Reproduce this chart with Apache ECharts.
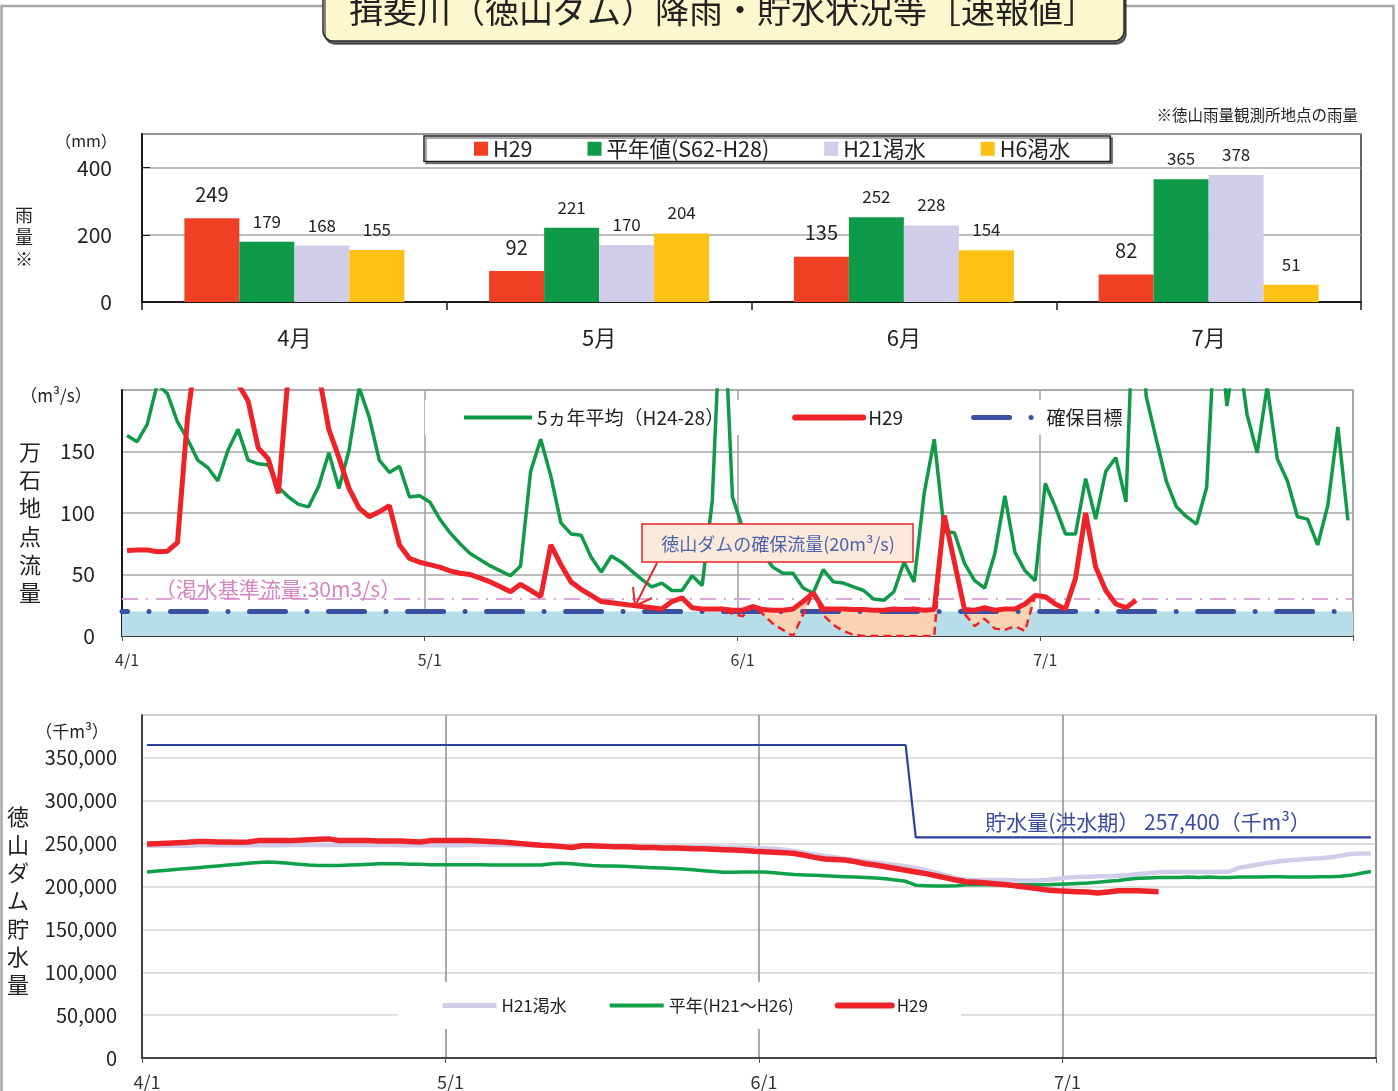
<!DOCTYPE html>
<html><head><meta charset="utf-8">
<script src="https://cdn.jsdelivr.net/npm/echarts@6.0.0/dist/echarts.min.js"></script>
<style>html,body{margin:0;padding:0;background:#fff;} #c{width:1398px;height:1091px;}</style>
</head><body><div id="c"></div>
<script>
const FONT = '"Noto Sans CJK JP", "Noto Sans", sans-serif';

// ---------- Rainfall (mm) ----------
const MONTHS = ['4月', '5月', '6月', '7月'];
const RAIN_H29 = [249, 92, 135, 82];
const RAIN_NORMAL = [179, 221, 252, 365];
const RAIN_H21 = [168, 170, 228, 378];
const RAIN_H6 = [155, 204, 154, 51];

// ---------- Days 4/1 .. 7/31 ----------
const MONTH_NUM = [4, 5, 6, 7];
const MONTH_LEN = [30, 31, 30, 31];
const DAYS = [];
MONTH_NUM.forEach((m, i) => { for (let d = 1; d <= MONTH_LEN[i]; d++) DAYS.push(m + '/' + d); });
const MONTH_START_IDX = [0, 30, 61, 91];

// ---------- Flow at Mangoku (m3/s) ----------
const FLOW_AVG5 = [
  163,158,172,205,197,174,160,143,137,126,
  151,168,143,140,139,121,113,107,105,122,
  149,120,151,202,178,143,133,138,113,114,
  109,95,84,75,67,62,57,53,49,57,
  134,160,130,92,83,82,64,52,65,60,
  53,46,40,43,37,37,49,41,110,300,
  113,88,78,67,56,51,51,39,35,54,
  44,43,40,37,30,29,36,60,44,116,
  160,85,84,59,45,39,67,114,68,53,
  45,124,105,83,83,128,95,134,145,109,
  330,195,160,126,105,97,91,121,280,187,
  240,180,149,203,144,126,97,95,74,106,
  170,94
];
const FLOW_H29 = [
  69.5,70,70,68.5,69,76,178,240,290,270,
  235,205,191,153,144,116,215,300,280,213,
  168,145,120,104,97,101,106,74,63,60,
  58,56,53,51,50,47,44,40,36,42,
  37,32,74,58,44,38,33,28,27,26,
  25,24,23,22,28,31,23,22,22,22,
  21,21,24,21.5,21,21,22,28,35,22,
  22,22,21.5,21.5,21,21,22,21.5,22,21,
  21.5,98,60,21.5,21,23,21,22,22,26,
  33,32,26,22,47,100,56,37,26,23,
  29
];
// flow without dam supplement (dashed), starting at index 58 (5/29)
const NO_DAM_START = 58;
const FLOW_H29_NO_DAM = [22,21,18,16,24,18,10,5,0,17.5,35,17,9,4,1,0,0,0,0,0,0,0,0,98,60,18,8,14,6,5,8,4,33];
const TARGET_FLOW = 20;      // 確保目標
const DROUGHT_FLOW = 30;     // 渇水基準流量

// ---------- Storage (thousand 千m3) ----------
const STORAGE_H21_K = [
  247.5,247.5,247.5,247.5,247.5,248,248,248,248,248,
  248,248,248,248,248.5,248.5,248.5,248.5,248.5,248.5,
  248.5,248.5,248.5,248.5,248.5,248,248,248,248,248,
  248,248,248.5,248.5,248.5,248.5,248.5,248,248,247.5,
  247.5,247,247,247,247,246.5,246.5,246.5,246.5,246.5,
  246.5,246.5,246.5,246,246,246,246,245.5,245.5,245.5,
  245,244.5,244,243,241.5,239.5,237.5,235.5,234,232.5,
  231,229.5,228,226.5,225,223.5,221.5,219,216,213,
  210,208,207.5,207.5,207.5,207.5,207,207,207,207.5,
  209,210.5,211,211.5,212,212,212.5,213,214.5,215.5,
  216.5,217,217,217,217,217,217,217.5,222,224,
  226,228,229.5,230.5,231.5,232.5,233,234,236,238,
  238.5,238.5
];
const STORAGE_NORMAL_K = [
  217,218,219,220,221,222,223,224,225,226,
  227,228,228.5,228,227,226,225,224.5,224.5,224.5,
  225,225.5,226,226.5,226.5,226.5,226,226,225.5,225.5,
  225.5,225.5,225.5,225.5,225,225,225,225,225,225,
  226.5,227,226.5,225.5,224.5,224,224,223.5,223,222.5,
  222,221.5,221,220.5,219.5,218.5,217.5,216.5,216.5,217,
  217,217,216,215,214,213.5,213,212.5,212,211.5,
  211,210.5,210,209,207.5,206,201.5,201,200.5,200.5,
  201,202,202,202,202,202,202,202,202,202,
  202.5,203,203.5,204,205,206,207,208.5,209.5,210,
  210.5,210.5,210.5,211,210.5,211,210.5,210.5,211,211,
  211,211.5,211.5,211,211,211,211.5,211.5,212,213,
  215.5,217.5
];
const STORAGE_H29_K = [
  249.5,250,250.5,251,251.5,252.5,252.5,252,252,251.5,
  252,253.5,253.5,253.5,253.5,254,254.5,255,255.5,253.5,
  253.5,253.5,253.5,253,253,253,252.5,252,253.5,253.5,
  253.5,253.5,253.5,253,252.5,252,251,250,249,248,
  247.5,246.5,245.5,247.5,247.5,247,246.5,246.5,246,245.5,
  245.5,245,245,244.5,244,244,243.5,243,242.5,242,
  241,240.5,240,239.5,238.5,236.5,234,232,231.5,231,
  229,226.5,225,223,221,219,217,215,212.5,210,
  207.5,205.5,205,204,203,202,200.5,199,197.5,196,
  195,194.5,194,193.5,192.5,193.5,195,195,195,194.5,
  194
];
const LIMIT_NORMAL_K = 365;    // 通常期
const LIMIT_FLOOD_K = 257.4;   // 洪水期
const FLOOD_FROM_IDX = 76;     // 6/16

// ---------- derived series ----------
const noDam = DAYS.map((_, i) => {
  const k = i - NO_DAM_START;
  return (k >= 0 && k < FLOW_H29_NO_DAM.length) ? FLOW_H29_NO_DAM[k] : null;
});
const noDamGap = DAYS.map((_, i) => (noDam[i] == null || FLOW_H29[i] == null) ? null : Math.max(0, FLOW_H29[i] - noDam[i]));
const K = v => v * 1000;
const storH21 = STORAGE_H21_K.map(K);
const storNormal = STORAGE_NORMAL_K.map(K);
const storH29 = STORAGE_H29_K.map(K);
const storLimit = DAYS.map((_, i) => K(i < FLOOD_FROM_IDX ? LIMIT_NORMAL_K : LIMIT_FLOOD_K));

const monthIdx = idx => MONTH_START_IDX.indexOf(idx) >= 0;
const stripZW = n => n.replace(/\u200b/g, '');

const C_RED = '#EE2229', C_GREEN = '#109A48', C_BLUE = '#3B4FA3', C_LAV = '#CFCDE7', C_GREEN2 = '#10A04A';
const BLUE_DASH = [36, 21.5, 0.01, 21.5];

const chart = echarts.init(document.getElementById('c'), null, { renderer: 'canvas' });

function dayAxis(gridIndex, labelSize, margin, splitColor) {
  return {
    type: 'category', gridIndex, data: DAYS, boundaryGap: true,
    axisLine: { show: true, lineStyle: { color: '#1a1a1a', width: 1.5 } },
    axisTick: { show: true, interval: monthIdx, length: 5, lineStyle: { color: '#555' } },
    axisLabel: { interval: monthIdx, fontSize: labelSize, color: '#333', margin, fontFamily: FONT },
    splitLine: { show: true, interval: (i) => monthIdx(i) && i > 0, lineStyle: { color: splitColor, width: 1.5 } }
  };
}

const option = {
  animation: false,
  textStyle: { fontFamily: FONT },
  grid: [
    { left: 142, top: 134, width: 1219, height: 168, show: true, borderColor: '#333', borderWidth: 1.5, outerBoundsMode: 'none' },
    { left: 122, top: 390, width: 1231, height: 246, show: true, borderColor: '#A6A6A6', borderWidth: 1.5, outerBoundsMode: 'none' },
    { left: 142, top: 715, width: 1234, height: 343, show: true, borderColor: '#A6A6A6', borderWidth: 1.5, outerBoundsMode: 'none' }
  ],
  xAxis: [
    {
      type: 'category', gridIndex: 0, data: MONTHS,
      axisLine: { lineStyle: { color: '#1a1a1a', width: 2 } },
      axisTick: { show: true, length: 8, lineStyle: { color: '#1a1a1a', width: 1.5 } },
      axisLabel: { fontSize: 22, color: '#222', margin: 25 },
      splitLine: { show: false }
    },
    dayAxis(1, 16, 16, '#A0A0A0'),
    dayAxis(2, 18, 15, '#8C8C8C')
  ],
  yAxis: [
    {
      type: 'value', gridIndex: 0, min: 0, max: 500, interval: 200,
      axisLine: { show: true, lineStyle: { color: '#1a1a1a', width: 2 } },
      axisTick: { show: true, inside: true, length: 8, lineStyle: { color: '#1a1a1a' } },
      axisLabel: { fontSize: 21, color: '#222', margin: 30, showMaxLabel: false },
      splitLine: { lineStyle: { color: '#A6A6A6', width: 1.5 } }
    },
    {
      type: 'value', gridIndex: 1, min: 0, max: 200, interval: 50,
      axisLine: { show: true, lineStyle: { color: '#1a1a1a', width: 2 } },
      axisTick: { show: false },
      axisLabel: { fontSize: 21, color: '#222', margin: 27, showMaxLabel: false },
      splitLine: { lineStyle: { color: '#A6A6A6', width: 1.5 } }
    },
    {
      type: 'value', gridIndex: 2, min: 0, max: 400000, interval: 50000,
      axisLine: { show: true, lineStyle: { color: '#1a1a1a', width: 1.5 } },
      axisTick: { show: false },
      axisLabel: { fontSize: 20, color: '#222', margin: 25, showMaxLabel: false,
        formatter: v => v.toLocaleString('en-US') },
      splitLine: { lineStyle: { color: '#D4D4D4', width: 1.5 } }
    }
  ],
  legend: [
    {
      left: 424, top: 136, orient: 'horizontal',
      data: ['H29', '平年値(S62-H28)', 'H21渇水', 'H6渇水'],
      icon: 'rect', itemWidth: 14, itemHeight: 14, itemGap: 55,
      padding: [2, 40, 2, 50],
      backgroundColor: '#fff', borderColor: '#222', borderWidth: 1.5,
      shadowColor: 'rgba(0,0,0,0.45)', shadowOffsetX: 2, shadowOffsetY: 2, shadowBlur: 0,
      textStyle: { fontSize: 21.5, color: '#222' }, selectedMode: false
    },
    {
      left: 425, top: 400, orient: 'horizontal',
      data: [
        { name: '5ヵ年平均（H24-28）', lineStyle: { color: C_GREEN, width: 4, type: 'solid' } },
        { name: 'H29\u200b', lineStyle: { color: C_RED, width: 6, type: 'solid', cap: 'round' } },
        { name: '確保目標', lineStyle: { color: C_BLUE, width: 5, type: BLUE_DASH, cap: 'round' } }
      ],
      itemWidth: 68, itemHeight: 14, itemGap: 68,
      itemStyle: { opacity: 0 },
      padding: [8, 14, 8, 37],
      backgroundColor: '#fff', borderWidth: 0,
      formatter: stripZW,
      textStyle: { fontSize: 19, color: '#222' }, selectedMode: false
    },
    {
      left: 398, top: 982, orient: 'horizontal',
      data: [
        { name: 'H21渇水\u200b', lineStyle: { color: C_LAV, width: 5, type: 'solid' } },
        { name: '平年(H21〜H26)', lineStyle: { color: C_GREEN2, width: 4, type: 'solid' } },
        { name: 'H29\u200b\u200b', lineStyle: { color: C_RED, width: 6, type: 'solid', cap: 'round' } }
      ],
      itemWidth: 54, itemHeight: 14, itemGap: 41,
      itemStyle: { opacity: 0 },
      padding: [15, 33, 15, 42],
      backgroundColor: '#fff', borderWidth: 0,
      formatter: stripZW,
      textStyle: { fontSize: 17, color: '#222' }, selectedMode: false
    }
  ],
  series: [
    // ---- rainfall bars ----
    { name: 'H29', type: 'bar', xAxisIndex: 0, yAxisIndex: 0, data: RAIN_H29, barWidth: 55, barGap: '0%',
      itemStyle: { color: '#EF4023' },
      label: { show: true, position: 'top', distance: 14, fontSize: 20, color: '#222' } },
    { name: '平年値(S62-H28)', type: 'bar', xAxisIndex: 0, yAxisIndex: 0, data: RAIN_NORMAL, barWidth: 55, barGap: '0%',
      itemStyle: { color: '#0E9A48' },
      label: { show: true, position: 'top', distance: 12, fontSize: 17, color: '#222' } },
    { name: 'H21渇水', type: 'bar', xAxisIndex: 0, yAxisIndex: 0, data: RAIN_H21, barWidth: 55, barGap: '0%',
      itemStyle: { color: C_LAV },
      label: { show: true, position: 'top', distance: 12, fontSize: 17, color: '#222' } },
    { name: 'H6渇水', type: 'bar', xAxisIndex: 0, yAxisIndex: 0, data: RAIN_H6, barWidth: 55, barGap: '0%',
      itemStyle: { color: '#FDC113' },
      label: { show: true, position: 'top', distance: 12, fontSize: 17, color: '#222' } },

    // ---- flow chart ----
    { name: '_bg', type: 'line', xAxisIndex: 1, yAxisIndex: 1, data: [], z: 1, silent: true,
      markArea: { silent: true, itemStyle: { color: '#B7DDE8' }, data: [[{ yAxis: 0 }, { yAxis: TARGET_FLOW }]] },
      markLine: { silent: true, symbol: 'none', label: { show: false },
        lineStyle: { color: '#DDA6D6', width: 2, type: [16, 8, 2, 8] }, data: [{ yAxis: DROUGHT_FLOW }] } },
    { name: '_nodam', type: 'line', xAxisIndex: 1, yAxisIndex: 1, data: noDam, stack: 'nd', z: 5,
      symbol: 'none', connectNulls: false, itemStyle: { color: C_RED },
      lineStyle: { color: C_RED, width: 2.5, type: [8, 5] } },
    { name: '_gap', type: 'line', xAxisIndex: 1, yAxisIndex: 1, data: noDamGap, stack: 'nd', z: 2,
      symbol: 'none', itemStyle: { color: '#FAD3B2' },
      lineStyle: { width: 0, opacity: 0 }, areaStyle: { color: '#FAD3B2', opacity: 1 } },
    { name: '確保目標', type: 'line', xAxisIndex: 1, yAxisIndex: 1, data: [], z: 3, symbol: 'none',
      itemStyle: { color: C_BLUE },
      lineStyle: { color: C_BLUE, width: 5, type: BLUE_DASH, cap: 'round' },
      markLine: { silent: true, symbol: 'none', label: { show: false },
        lineStyle: { color: C_BLUE, width: 5, type: BLUE_DASH, dashOffset: 30.5, cap: 'round' },
        data: [{ yAxis: TARGET_FLOW }] } },
    { name: '5ヵ年平均（H24-28）', type: 'line', xAxisIndex: 1, yAxisIndex: 1, data: FLOW_AVG5, z: 6,
      symbol: 'none', itemStyle: { color: C_GREEN }, lineStyle: { color: C_GREEN, width: 3.5 } },
    { name: 'H29\u200b', type: 'line', xAxisIndex: 1, yAxisIndex: 1, data: FLOW_H29, z: 7,
      symbol: 'none', itemStyle: { color: C_RED }, lineStyle: { color: C_RED, width: 5 } },

    // ---- storage chart ----
    { name: '_limit', type: 'line', xAxisIndex: 2, yAxisIndex: 2, data: storLimit, z: 2,
      symbol: 'none', itemStyle: { color: '#2F409C' }, lineStyle: { color: '#2F409C', width: 2.2 } },
    { name: 'H21渇水\u200b', type: 'line', xAxisIndex: 2, yAxisIndex: 2, data: storH21, z: 3,
      symbol: 'none', itemStyle: { color: C_LAV }, lineStyle: { color: C_LAV, width: 4.5 } },
    { name: '平年(H21〜H26)', type: 'line', xAxisIndex: 2, yAxisIndex: 2, data: storNormal, z: 4,
      symbol: 'none', itemStyle: { color: C_GREEN2 }, lineStyle: { color: C_GREEN2, width: 3.5 } },
    { name: 'H29\u200b\u200b', type: 'line', xAxisIndex: 2, yAxisIndex: 2, data: storH29, z: 5,
      symbol: 'none', itemStyle: { color: C_RED }, lineStyle: { color: C_RED, width: 5.5 } }
  ],
  graphic: [
    { type: 'rect', z: 0, shape: { x: 1.5, y: 6, width: 1392, height: 1110 },
      style: { fill: 'none', stroke: '#A9A9A9', lineWidth: 2.5 } },
    { type: 'rect', z: 10, shape: { x: 323, y: -20, width: 801, height: 61, r: 10 },
      style: { fill: '#FDF7CE', stroke: '#2b2b2b', lineWidth: 1.5,
        shadowColor: 'rgba(0,0,0,0.6)', shadowOffsetX: 2, shadowOffsetY: 3, shadowBlur: 0 } },
    { type: 'text', z: 11, x: 723, y: 10,
      style: { text: '揖斐川（徳山ダム）降雨・貯水状況等［速報値］', fontSize: 34, fontFamily: FONT, fill: '#222', align: 'center', verticalAlign: 'middle' } },
    { type: 'text', z: 11, x: 1358, y: 115,
      style: { text: '※徳山雨量観測所地点の雨量', fontSize: 15.5, fontFamily: FONT, fill: '#222', align: 'right', verticalAlign: 'middle' } },
    { type: 'text', z: 11, x: 86, y: 141,
      style: { text: '（mm）', fontSize: 16, fontFamily: FONT, fill: '#222', align: 'center', verticalAlign: 'middle' } },
    { type: 'text', z: 11, x: 24, y: 237,
      style: { text: '雨\n量\n※', fontSize: 18, lineHeight: 22, fontFamily: FONT, fill: '#222', align: 'center', verticalAlign: 'middle' } },
    { type: 'text', z: 11, x: 56, y: 396,
      style: { text: '（m³/s）', fontSize: 17, fontFamily: FONT, fill: '#222', align: 'center', verticalAlign: 'middle' } },
    { type: 'text', z: 11, x: 30, y: 522,
      style: { text: '万\n石\n地\n点\n流\n量', fontSize: 22, lineHeight: 28.3, fontFamily: FONT, fill: '#222', align: 'center', verticalAlign: 'middle' } },
    { type: 'text', z: 11, x: 278, y: 589,
      style: { text: '（渇水基準流量:30m3/s）', fontSize: 21, fontFamily: FONT, fill: '#D584C4', align: 'center', verticalAlign: 'middle' } },
    { type: 'rect', z: 11, shape: { x: 642, y: 524, width: 271, height: 38 },
      style: { fill: '#FDE9DA', stroke: '#E3262C', lineWidth: 1.5 } },
    { type: 'text', z: 12, x: 778, y: 544,
      style: { text: '徳山ダムの確保流量(20m³/s)', fontSize: 18, fontFamily: FONT, fill: '#4A64B0', align: 'center', verticalAlign: 'middle' } },
    { type: 'polyline', z: 12, shape: { points: [[657, 563], [635, 606]] },
      style: { stroke: '#E8262C', lineWidth: 2, fill: null } },
    { type: 'polyline', z: 12, shape: { points: [[633, 587], [635, 606], [652, 598]] },
      style: { stroke: '#E8262C', lineWidth: 2, fill: null } },
    { type: 'text', z: 11, x: 72, y: 732,
      style: { text: '（千m³）', fontSize: 17, fontFamily: FONT, fill: '#222', align: 'center', verticalAlign: 'middle' } },
    { type: 'text', z: 11, x: 18, y: 901,
      style: { text: '徳\n山\nダ\nム\n貯\n水\n量', fontSize: 22, lineHeight: 28, fontFamily: FONT, fill: '#222', align: 'center', verticalAlign: 'middle' } },
    { type: 'text', z: 11, x: 1148, y: 822,
      style: { text: '貯水量(洪水期） 257,400（千m³）', fontSize: 21, fontFamily: FONT, fill: '#3A4BA3', align: 'center', verticalAlign: 'middle' } }
  ]
};
chart.setOption(option);
</script>
</body></html>
